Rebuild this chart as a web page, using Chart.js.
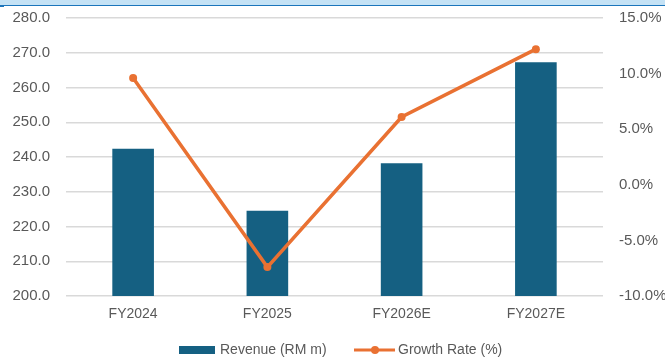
<!DOCTYPE html>
<html>
<head>
<meta charset="utf-8">
<script src="https://cdn.jsdelivr.net/npm/chart.js@4"></script>
<style>
  html, body { margin: 0; padding: 0; background: #fff; }
  #wrap { position: relative; width: 665px; height: 360px; }
  #topbar { position: absolute; left: 0; top: 0; width: 665px; height: 5px; background: #c4e2f5; border-bottom: 1.5px solid #1b75bb; }
  #tick { position: absolute; left: 0; top: 5px; width: 4px; height: 2px; background: #1b75bb; }
  canvas { position: absolute; left: 0; top: 0; }
</style>
</head>
<body>
<div id="wrap">
  <canvas id="chart" width="665" height="360"></canvas>
  <div id="topbar"></div>
  <div id="tick"></div>
</div>
<script>
// Revenue and growth forecast
const years = ["FY2024", "FY2025", "FY2026E", "FY2027E"];
const revenue = [242.4, 224.5, 238.2, 267.3];
const growth = [9.6, -7.4, 6.1, 12.2];

const BLUE = "#156082";
const ORANGE = "#E97132";
const TEXT = "#595959";
const GRID = "#D9D9D9";
const FONT = "'Liberation Sans', Arial, sans-serif";

// fixed axis box so the plot area sits at 66..603 x 18..296
function fitY(width) {
  return s => {
    s.width = width;
    s.paddingTop = 18;
    s.paddingBottom = 9;
  };
}

// legend drawn by hand so the swatches look like the spreadsheet ones
const legendPlugin = {
  id: "sheetLegend",
  afterDraw(chart) {
    const ctx = chart.ctx;
    const y = 350;
    const bar = chart.data.datasets.find(d => d.type === "bar");
    const line = chart.data.datasets.find(d => d.type === "line");
    ctx.save();
    ctx.font = "14px " + FONT;
    ctx.textBaseline = "middle";

    ctx.fillStyle = bar.backgroundColor;
    ctx.fillRect(179, y - 4, 36, 8);
    ctx.fillStyle = TEXT;
    ctx.fillText(bar.label, 220, y);

    ctx.strokeStyle = line.borderColor;
    ctx.lineWidth = 3;
    ctx.beginPath();
    ctx.moveTo(354, y);
    ctx.lineTo(395, y);
    ctx.stroke();
    ctx.fillStyle = line.borderColor;
    ctx.beginPath();
    ctx.arc(375, y, 4, 0, Math.PI * 2);
    ctx.fill();
    ctx.fillStyle = TEXT;
    ctx.fillText(line.label, 398, y);
    ctx.restore();
  }
};

new Chart(document.getElementById("chart"), {
  data: {
    labels: years,
    datasets: [
      {
        type: "line",
        label: "Growth Rate (%)",
        data: growth,
        yAxisID: "y1",
        borderColor: ORANGE,
        backgroundColor: ORANGE,
        borderWidth: 3.5,
        pointRadius: 4,
        pointBackgroundColor: ORANGE,
        pointBorderWidth: 0,
        tension: 0,
        order: 0
      },
      {
        type: "bar",
        label: "Revenue (RM m)",
        data: revenue,
        yAxisID: "y",
        backgroundColor: BLUE,
        borderWidth: 0,
        categoryPercentage: 1,
        barPercentage: 0.31,
        order: 1
      }
    ]
  },
  options: {
    responsive: false,
    animation: false,
    layout: { padding: 0 },
    plugins: {
      legend: { display: false },
      tooltip: { enabled: false }
    },
    scales: {
      x: {
        grid: { display: false, drawTicks: false },
        border: { display: false },
        ticks: { color: TEXT, font: { family: FONT, size: 14 }, padding: 10, maxRotation: 0 },
        afterFit(s) { s.height = 64; }
      },
      y: {
        position: "left",
        min: 200,
        max: 280,
        grid: { color: GRID, lineWidth: 1.5, drawTicks: false },
        border: { display: false },
        ticks: {
          stepSize: 10,
          padding: 16,
          color: TEXT,
          font: { family: FONT, size: 15 },
          callback: v => v.toFixed(1)
        },
        afterFit: fitY(66)
      },
      y1: {
        position: "right",
        min: -10,
        max: 15,
        grid: { display: false, drawTicks: false },
        border: { display: false },
        ticks: {
          stepSize: 5,
          padding: 16,
          color: TEXT,
          font: { family: FONT, size: 15 },
          callback: v => v.toFixed(1) + "%"
        },
        afterFit: fitY(62)
      }
    }
  },
  plugins: [legendPlugin]
});
</script>
</body>
</html>
